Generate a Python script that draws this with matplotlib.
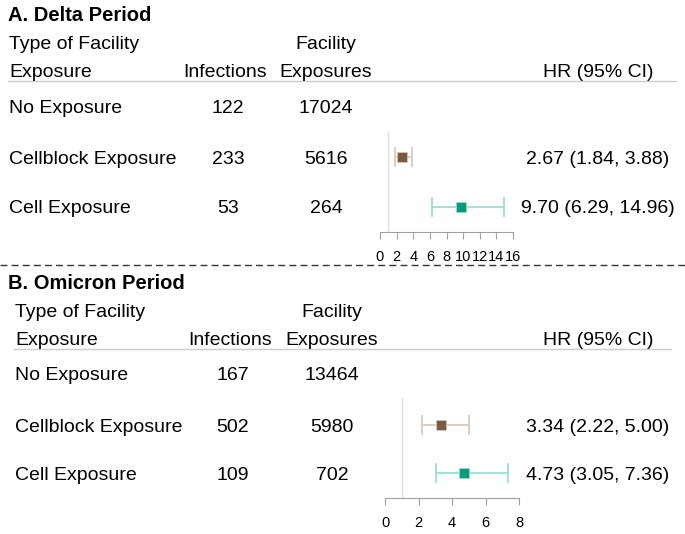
import matplotlib
matplotlib.use("Agg")
import matplotlib.pyplot as plt
from matplotlib.lines import Line2D

plt.rcParams['font.family'] = ['Liberation Sans', 'DejaVu Sans']

W, H = 685, 534

# data
periods = ["A. Delta Period", "B. Omicron Period"]
exposure_types = ["No Exposure", "Cellblock Exposure", "Cell Exposure"]
delta_infections = [122, 233, 53]
delta_exposures = [17024, 5616, 264]
delta_hr = [None, 2.67, 9.70]
delta_lo = [None, 1.84, 6.29]
delta_hi = [None, 3.88, 14.96]
omicron_infections = [167, 502, 109]
omicron_exposures = [13464, 5980, 702]
omicron_hr = [None, 3.34, 4.73]
omicron_lo = [None, 2.22, 3.05]
omicron_hi = [None, 5.00, 7.36]
delta_ticks = [0, 2, 4, 6, 8, 10, 12, 14, 16]
omicron_ticks = [0, 2, 4, 6, 8]

marker_colors = ["#7A5A40", "#079A7D"]
ci_colors = ["#D8C6B8", "#92DECB"]

fig = plt.figure(figsize=(W / 100, H / 100), dpi=100)


def px_text(x, y, s, ha="left", size=14, weight="normal"):
    # y is the visual centre of the capitals, measured from the top in pixels
    fig.text(x / W, 1 - (y + 7) / H, s, ha=ha, va="baseline",
             fontsize=size, fontweight=weight, color="black")


def hline(x0, x1, y, **kw):
    fig.add_artist(Line2D([x0 / W, x1 / W], [1 - y / H, 1 - y / H],
                          transform=fig.transFigure, **kw))


def panel(top, title, name_x, inf_x, exp_x, line_x1, rows_y, infections,
          exposures, hr, lo, hi, ax_box, xlim, ticks, ylim):
    px_text(8, top, title, size=14.5, weight="bold")
    px_text(name_x, top + 28, "Type of Facility")
    px_text(exp_x, top + 28, "Facility", ha="center")
    px_text(name_x, top + 56, "Exposure")
    px_text(inf_x, top + 56, "Infections", ha="center")
    px_text(exp_x, top + 56, "Exposures", ha="center")
    px_text(598, top + 56, "HR (95% CI)", ha="center")
    hline(name_x - 1, line_x1, top + 67, color="#CCCCCC", lw=1)

    for i, name in enumerate(exposure_types):
        y = rows_y[i]
        px_text(name_x, y, name)
        px_text(inf_x + 3, y, str(infections[i]), ha="center")
        px_text(exp_x, y, str(exposures[i]), ha="center")
        if hr[i] is not None:
            px_text(598, y, f"{hr[i]:.2f} ({lo[i]:.2f}, {hi[i]:.2f})", ha="center")

    x0, x1, yt, yb = ax_box
    ax = fig.add_axes([x0 / W, 1 - yb / H, (x1 - x0) / W, (yb - yt) / H])
    ax.set_xlim(*xlim)
    ax.set_ylim(*ylim)
    ax.axvline(1, color="#E0E0E0", lw=1, zorder=0)
    for k, i in enumerate([1, 2]):
        ax.errorbar(hr[i], k + 1, xerr=[[hr[i] - lo[i]], [hi[i] - hr[i]]],
                    fmt="none", ecolor=ci_colors[k], elinewidth=1.2,
                    capsize=7, capthick=1.2, zorder=2)
        ax.plot(hr[i], k + 1, marker="s", ms=7.8, color=marker_colors[k],
                mec=ci_colors[k], mew=0.6, zorder=3)
    ax.set_xticks(ticks)
    ax.set_xticklabels([str(t) for t in ticks])
    ax.set_yticks([])
    for s in ["top", "right", "left"]:
        ax.spines[s].set_visible(False)
    ax.spines["bottom"].set_color("#A0A0A0")
    ax.tick_params(axis="x", colors="#A0A0A0", labelcolor="black",
                   labelsize=10.5, length=5, pad=8)
    ax.patch.set_alpha(0)
    return ax


panel(14, periods[0], 9, 225, 326, 676, [106, 157, 206], delta_infections,
      delta_exposures, delta_hr, delta_lo, delta_hi,
      (380, 513, 132, 232), (0, 16), delta_ticks, (2.5, 0.5))

hline(0, W, 265, color="#333333", lw=1, ls=(0, (5, 3)))

panel(282, periods[1], 15, 230, 332, 671, [373, 425, 473], omicron_infections,
      omicron_exposures, omicron_hr, omicron_lo, omicron_hi,
      (385, 519, 398, 498), (0, 8), omicron_ticks, (2.52, 0.44))

fig.savefig("out.png", dpi=100)
